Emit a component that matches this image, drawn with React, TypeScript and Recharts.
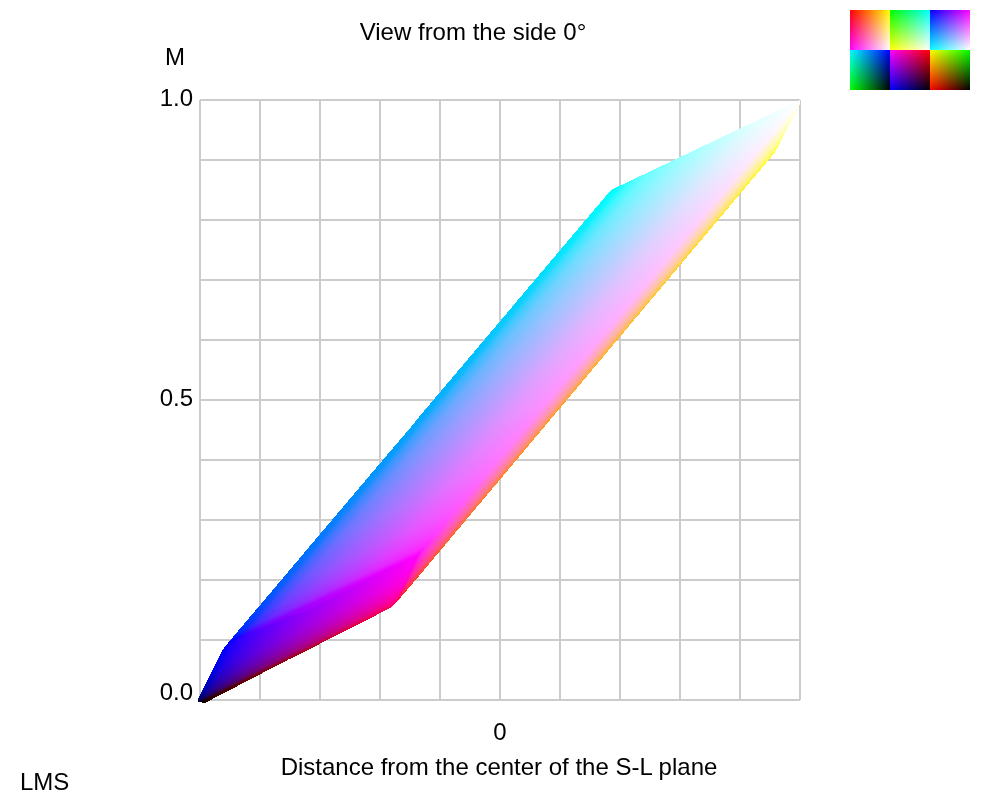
import { Area, CartesianGrid, ComposedChart, XAxis, YAxis } from "recharts";

const FONT = "Liberation Sans, Arial, sans-serif";

const xTicks = [-1, -0.8, -0.6, -0.4, -0.2, 0, 0.2, 0.4, 0.6, 0.8, 1];
const yTicks = [0, 0.1, 0.2, 0.3, 0.4, 0.5, 0.6, 0.7, 0.8, 0.9, 1];
const xLabels = [0];
const yLabels = [0, 0.5, 1];

// silhouette of the three visible gamut faces
const lowerFaceX = [-1.007, -0.983, -0.927, -0.907, -0.707, -0.65, -0.367, -0.35, -0.3, -0.273];
const lowerFaceLow = [-0.003, -0.005, 0.01, 0.015, 0.067, 0.081, 0.153, 0.16, 0.213, 0.242];
const lowerFaceHigh = [0.002, 0.025, 0.082, 0.095, 0.138, 0.148, 0.221, 0.225, 0.232, 0.242];

const upperFaceX = [-0.907, -0.707, -0.65, -0.35, -0.3, -0.273, 0.37, 1];
const upperFaceLow = [0.095, 0.138, 0.148, 0.225, 0.232, 0.242, 0.625, 1];
const upperFaceHigh = [0.095, 0.213, 0.247, 0.424, 0.453, 0.47, 0.85, 1];

// top edge runs a little under the upper face so no gap shows along the seam
const rimFaceX = [-0.35, -0.273, 0.917, 1];
const rimFaceLow = [0.16, 0.205, 0.913, 0.993];
const rimFaceHigh = [0.16, 0.26, 0.965, 1];

const toRows = (x: number[], low: number[], high: number[]) =>
  x.map((v, i) => ({ x: v, band: [low[i], high[i]] }));

const lowerFace = toRows(lowerFaceX, lowerFaceLow, lowerFaceHigh);
const upperFace = toRows(upperFaceX, upperFaceLow, upperFaceHigh);
const rimFace = toRows(rimFaceX, rimFaceLow, rimFaceHigh);

// tone ramps for the face gradients
const rampOffsets = [0, 0.02, 0.05, 0.1, 0.2, 0.35, 0.5, 0.75, 1];
const defaultLevels = [0, 43, 65, 90, 123, 158, 186, 224, 255];
const greenLevels = [0, 40, 62, 85, 115, 145, 170, 210, 255];
const upperRedLevels = [0, 0, 15, 60, 110, 148, 178, 225, 255];
const lowerRedLevels = [0, 20, 36, 57, 90, 129, 163, 212, 255];
const lowerBlueLevels = [0, 60, 90, 125, 165, 200, 225, 245, 255];

const swatches = [
  { base: "#f00", across: "#0f0", down: "#00f", flipX: false, flipY: false },
  { base: "#0f0", across: "#00f", down: "#f00", flipX: false, flipY: false },
  { base: "#00f", across: "#f00", down: "#0f0", flipX: false, flipY: false },
  { base: "#000", across: "#0f0", down: "#00f", flipX: true, flipY: true },
  { base: "#000", across: "#00f", down: "#f00", flipX: true, flipY: true },
  { base: "#000", across: "#f00", down: "#0f0", flipX: true, flipY: true },
];

function Ramp({ id, from, to, vec, levels = defaultLevels }: { id: string; from: number[]; to: number[]; vec: number[]; levels?: number[] }) {
  return (
    <linearGradient id={id} gradientUnits="userSpaceOnUse" x1={vec[0]} y1={vec[1]} x2={vec[2]} y2={vec[3]}>
      {rampOffsets.map((o, i) => {
        const t = levels[i] / 255;
        const c = from.map((f, k) => Math.round(f + (to[k] - f) * t));
        return <stop key={o} offset={o} stopColor={`rgb(${c.join(",")})`} />;
      })}
    </linearGradient>
  );
}

function YTick({ x, y, payload }: any) {
  if (!yLabels.includes(payload.value)) return null;
  const dy = payload.value === 0 ? 0 : 6;
  return (
    <text x={193} y={y + dy} textAnchor="end" fontFamily={FONT} fontSize={24} fill="#000">
      {payload.value.toFixed(1)}
    </text>
  );
}

function XTick({ x, y, payload }: any) {
  if (!xLabels.includes(payload.value)) return null;
  return (
    <text x={x} y={740} textAnchor="middle" fontFamily={FONT} fontSize={24} fill="#000">
      {payload.value}
    </text>
  );
}

export default function App() {
  const face = (name: string, rows: any[]) => (
    <>
      <Area key={name + "a"} data={rows} dataKey="band" type="linear" stroke="none" fill={`url(#${name}A)`} fillOpacity={1} isAnimationActive={false} />
      <Area key={name + "b"} className="screen" data={rows} dataKey="band" type="linear" stroke="none" fill={`url(#${name}B)`} fillOpacity={1} isAnimationActive={false} />
    </>
  );
  return (
    <div style={{ position: "absolute", left: 0, top: 0, width: 1000, height: 800, background: "#fff" }}>
      {/* the tip pokes 2px past the axes, so the overflow clip has to go */}
      <style>{`
        .screen { mix-blend-mode: screen; }
        .recharts-area, .recharts-area * { clip-path: none; }
        .recharts-area-area { shape-rendering: crispEdges; }
      `}</style>
      <ComposedChart width={1000} height={800} margin={{ top: 100, right: 200, bottom: 60, left: 140 }}>
        <defs>
          <Ramp id="rimA" from={[255, 0, 0]} to={[255, 255, 0]} vec={[395, 604, 532.5, 668.5]} levels={greenLevels} />
          <Ramp id="rimB" from={[0, 0, 0]} to={[0, 0, 255]} vec={[395, 604, 384.3, 595]} />
          <Ramp id="upperA" from={[0, 0, 255]} to={[0, 255, 255]} vec={[228, 643, 123, 416]} levels={greenLevels} />
          <Ramp id="upperB" from={[0, 0, 0]} to={[255, 0, 0]} vec={[228, 643, 295.4, 700]} levels={upperRedLevels} />
          <Ramp id="lowerA" from={[0, 0, 0]} to={[0, 0, 255]} vec={[200, 702, 182, 665]} levels={lowerBlueLevels} />
          <Ramp id="lowerB" from={[0, 0, 0]} to={[255, 0, 0]} vec={[200, 702, 320, 759]} levels={lowerRedLevels} />
        </defs>
        <CartesianGrid stroke="#ccc" strokeWidth={2} />
        <XAxis
          type="number"
          dataKey="x"
          domain={[-1, 1]}
          allowDataOverflow
          ticks={xTicks}
          interval={0}
          height={40}
          axisLine={false}
          tickLine={false}
          tick={<XTick />}
        />
        <YAxis
          type="number"
          domain={[0, 1]}
          allowDataOverflow
          ticks={yTicks}
          interval={0}
          width={60}
          axisLine={false}
          tickLine={false}
          tick={<YTick />}
        />
        {face("rim", rimFace)}
        {face("upper", upperFace)}
        {face("lower", lowerFace)}
        <text x={473} y={40} textAnchor="middle" fontFamily={FONT} fontSize={24} fill="#000">View from the side 0°</text>
        <text x={175} y={65} textAnchor="middle" fontFamily={FONT} fontSize={24} fill="#000">M</text>
        <text x={499} y={775} textAnchor="middle" fontFamily={FONT} fontSize={24} fill="#000">Distance from the center of the S-L plane</text>
        <text x={20} y={790} fontFamily={FONT} fontSize={24} fill="#000">LMS</text>
      </ComposedChart>
      <div style={{ position: "absolute", left: 850, top: 10, width: 120, display: "flex", flexWrap: "wrap" }}>
        {swatches.map((s, i) => (
          <div
            key={i}
            style={{
              width: 40,
              height: 40,
              backgroundColor: s.base,
              backgroundImage: `linear-gradient(${s.flipX ? "to left" : "to right"}, #000, ${s.across}), linear-gradient(${s.flipY ? "to top" : "to bottom"}, #000, ${s.down})`,
              backgroundBlendMode: "screen",
            }}
          />
        ))}
      </div>
    </div>
  );
}
